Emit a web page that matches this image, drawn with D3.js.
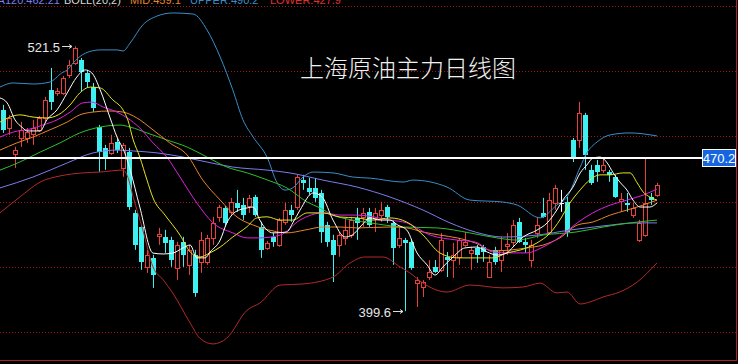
<html>
<head>
<title>上海原油主力日线图</title>
<script src="https://d3js.org/d3.v7.min.js" charset="utf-8"></script>
<style>
body { margin: 0; background: #000; overflow: hidden; }
svg { display: block; }
</style>
</head>
<body>
<script>
var width = 738;
var height = 364;

// daily candles
var opens = [
  492.2, 483.9, 471.9, 479.3, 479.3, 481.1, 483.0, 488.5, 501.4, 500.0,
  500.0, 508.3, 513.8, 515.2, 509.2, 502.8, 484.4, 474.7, 472.4, 477.5,
  465.5, 472.9, 444.8, 438.4, 420.0, 424.1, 434.2, 433.8, 432.4, 419.5,
  431.5, 420.9, 425.5, 422.3, 422.3, 433.3, 443.0, 447.1, 445.2, 449.4,
  448.5, 448.0, 452.2, 438.4, 428.7, 433.8, 430.1, 440.7, 446.2, 447.6,
  460.0, 456.3, 456.3, 454.0, 439.3, 432.4, 430.1, 433.3, 434.7, 442.5,
  443.0, 445.3, 442.5, 443.9, 447.6, 440.2, 430.1, 432.4, 431.5, 412.6,
  410.7, 415.3, 419.9, 418.5, 424.5, 423.1, 424.5, 430.1, 426.4, 428.7,
  429.2, 415.3, 427.8, 423.1, 429.6, 431.5, 440.7, 431.5, 423.1, 435.6,
  444.8, 436.0, 449.4, 449.4, 449.9, 478.4, 478.4, 489.9, 464.6, 466.9,
  464.6, 463.6, 461.4, 450.3, 449.4, 443.9, 432.4, 434.7, 452.2, 453.1];
var highs = [
  494.5, 489.9, 475.2, 486.7, 483.9, 487.6, 489.4, 498.2, 511.5, 502.3,
  507.8, 515.2, 521.5, 516.1, 510.6, 504.6, 485.3, 476.1, 480.7, 479.3,
  477.0, 474.7, 446.2, 439.3, 427.8, 425.5, 437.9, 437.0, 433.8, 431.5,
  433.8, 430.1, 427.8, 436.0, 434.7, 443.0, 448.5, 448.0, 451.7, 455.4,
  451.7, 453.1, 453.1, 440.7, 431.9, 435.6, 442.5, 449.4, 448.5, 462.3,
  462.3, 460.9, 460.9, 455.4, 440.7, 434.7, 436.0, 442.5, 443.0, 447.1,
  447.1, 447.1, 447.1, 449.9, 448.5, 441.6, 438.4, 433.3, 432.4, 415.3,
  413.9, 423.1, 423.1, 435.6, 426.8, 431.0, 433.3, 436.0, 429.2, 430.1,
  430.1, 425.5, 429.2, 433.8, 435.6, 441.6, 442.5, 433.3, 432.4, 443.0,
  451.7, 454.0, 457.7, 455.4, 452.2, 479.3, 495.9, 490.8, 466.9, 469.2,
  470.5, 464.6, 462.3, 454.0, 454.0, 449.4, 441.6, 470.1, 454.0, 458.6];
var lows = [
  481.6, 480.7, 465.5, 475.2, 477.0, 476.1, 482.1, 486.7, 492.2, 498.6,
  499.1, 506.9, 512.9, 500.5, 502.3, 491.3, 463.7, 464.6, 471.5, 472.4,
  461.4, 446.2, 427.8, 418.6, 417.2, 410.3, 430.1, 426.4, 420.0, 414.0,
  420.0, 416.3, 406.2, 417.2, 420.9, 430.1, 440.7, 438.4, 443.9, 445.3,
  441.6, 444.8, 443.0, 424.1, 427.8, 429.2, 429.2, 439.3, 440.7, 446.2,
  455.4, 453.1, 449.9, 431.0, 429.2, 413.0, 424.6, 430.1, 433.3, 432.4,
  438.4, 438.4, 436.0, 440.7, 440.2, 420.9, 428.7, 399.6, 418.6, 401.5,
  406.1, 413.9, 417.2, 417.6, 415.3, 414.9, 420.9, 429.2, 418.6, 421.8,
  422.3, 415.3, 420.9, 417.6, 425.5, 429.2, 431.0, 426.4, 420.0, 433.3,
  442.5, 435.6, 446.2, 445.3, 433.8, 468.2, 474.7, 464.6, 457.7, 459.1,
  463.2, 459.1, 451.7, 445.3, 445.3, 442.5, 431.4, 433.8, 448.5, 452.2];
var closes = [
  483.0, 488.5, 473.7, 483.0, 482.1, 483.9, 488.5, 496.8, 495.9, 500.9,
  506.9, 512.9, 520.7, 509.7, 505.1, 493.1, 472.9, 470.1, 477.0, 473.8,
  476.1, 447.6, 430.1, 422.3, 425.5, 416.3, 435.1, 431.0, 423.2, 430.1,
  425.5, 427.8, 408.0, 432.4, 433.3, 440.2, 447.6, 440.2, 449.9, 447.1,
  443.9, 451.7, 443.9, 427.8, 431.0, 431.5, 441.6, 446.2, 443.9, 461.4,
  458.6, 454.5, 451.7, 436.0, 431.5, 425.5, 434.7, 437.0, 441.6, 440.2,
  444.8, 439.3, 444.8, 446.2, 443.0, 428.7, 433.3, 431.0, 419.5, 414.0,
  413.0, 417.6, 417.6, 432.4, 423.1, 425.5, 432.4, 431.5, 427.8, 425.5,
  426.9, 422.3, 422.3, 427.8, 430.5, 439.3, 431.5, 430.1, 430.1, 439.3,
  443.0, 450.8, 456.3, 449.4, 436.0, 470.5, 490.8, 471.5, 458.6, 463.6,
  466.9, 462.3, 452.2, 451.2, 448.5, 447.1, 440.2, 449.4, 450.8, 457.7];

// indicator lines as [day index, price]
var bollUpper = [[-0.5,502.7],[1.7,504.6],[5,504.1],[7.8,505.0],[9.8,509.2],[10.7,510.6],[11.7,513.8],[13.2,517.5],[14.2,518.8],[16.2,519.8],[19,519.8],[20,519.3],[21.2,523.0],[23.3,531.3],[25.7,535.4],[28.3,536.8],[31.7,536.3],[34,529.0],[36.2,516.5],[38.3,501.4],[40,487.6],[41.7,479.7],[44,470.5],[45.7,458.6],[47,455.3],[48.3,456.3],[50,461.3],[51.7,463.6],[55,463.2],[58.3,461.3],[61.2,460.8],[66.7,459.0],[68.3,459.9],[74,456.7],[77.8,450.7],[83.3,449.8],[85.7,448.4],[89.5,442.5],[92.3,448.4],[94,452.1],[96.2,465.9],[97.3,472.4],[99,477.4],[101.2,480.7],[104.5,481.6],[109,480.2]];
var bollLower = [[-0.5,444.8],[2.8,452.1],[6.2,459.0],[9.5,461.8],[13.3,463.2],[16.2,463.6],[20,464.5],[20.8,461.3],[21.7,452.1],[23.3,437.0],[25,419.9],[26.7,414.0],[28.3,407.9],[31.2,394.1],[32.8,387.2],[35,384.5],[37.3,387.2],[40.7,400.1],[42.8,403.3],[46.2,411.6],[50,412.1],[55,415.3],[57.8,421.7],[60.3,424.5],[63.3,424.5],[66.2,419.9],[67.8,417.2],[70,412.5],[74,408.4],[77.8,411.6],[83.3,410.3],[86.7,410.7],[89.5,412.5],[92.3,408.0],[94,408.4],[96.2,402.9],[97.8,403.8],[100,406.1],[102.8,408.4],[105.7,413.0],[109,421.8]];
var ma5 = [[-0.5,497.7],[0.7,495.4],[2,487.6],[3.3,483.9],[4,482.5],[6.2,482.5],[7.3,487.6],[9,492.2],[10.7,500.0],[12.3,507.3],[13.7,510.6],[14.8,509.2],[16.2,501.4],[17.8,488.9],[19,479.7],[20.3,472.4],[21.2,464.5],[22.8,447.5],[25,426.3],[26.7,425.9],[28.3,426.3],[30,428.7],[31.2,430.0],[32.3,424.1],[33.7,424.1],[34.5,426.8],[36.2,432.3],[37.3,440.2],[38.7,445.2],[40.7,447.1],[41.7,447.5],[42.8,441.5],[44,436.9],[45,435.6],[47.3,436.0],[48.3,440.2],[49.5,446.1],[51.7,454.0],[53.2,452.1],[55,441.5],[57,433.7],[58.2,434.6],[59.8,439.2],[61.2,442.5],[62.8,441.5],[64.5,441.5],[65.8,439.2],[67.3,436.9],[69,426.4],[70.7,420.8],[72,416.2],[73.3,419.9],[75,424.5],[77,428.7],[79,429.1],[80.7,426.8],[82.3,425.4],[84,426.4],[85,429.1],[86.7,433.7],[89,436.9],[90.7,440.2],[92.3,446.1],[93.3,450.7],[95,456.7],[96.2,463.2],[97.3,466.8],[98.3,470.0],[99.5,470.5],[100.7,467.8],[101.7,463.2],[102.8,459.0],[104,455.3],[105,450.7],[106.2,447.5],[107.8,447.5],[109,449.4]];
var ma10 = [[-0.5,486.6],[2.8,489.9],[5,488.9],[7.3,488.5],[9.2,489.9],[11.2,494.5],[12.8,500.0],[14.5,502.7],[16.2,502.3],[18.3,496.8],[20,492.2],[20.8,487.6],[21.7,478.4],[22.8,470.5],[24,459.9],[25,451.7],[27,443.8],[29.5,434.6],[31.2,426.8],[32.8,424.5],[34.5,426.4],[36.2,429.1],[38.3,433.7],[40.7,438.5],[42.3,442.5],[44,443.0],[46.2,441.5],[48.3,441.5],[50.7,444.8],[53.3,444.8],[56.2,442.9],[59,442.5],[61.7,441.5],[64.5,442.5],[67.3,440.6],[70,434.6],[72.8,426.4],[75.7,424.1],[78.7,424.1],[81.7,424.1],[84,426.4],[86.2,427.7],[89,431.0],[91.2,435.6],[92.8,441.5],[94.5,449.4],[96.2,455.4],[97.8,460.0],[99.5,462.3],[101.2,462.3],[103.3,463.2],[104.5,463.2],[105.7,458.6],[106.7,454.4],[107.8,452.1],[109,450.7]];
var ma20 = [[-0.5,479.7],[1.7,482.0],[4.5,483.4],[6.7,485.3],[9,487.6],[11.2,491.2],[13.3,495.4],[14.8,495.8],[16.7,493.5],[19,491.2],[20.7,488.5],[22.8,483.9],[25,477.0],[27.3,470.5],[29.5,461.3],[32.3,449.4],[35,440.2],[38.3,435.6],[40.7,433.3],[42.8,433.3],[46.2,434.6],[49.5,441.5],[53.3,444.8],[56.2,443.8],[59,443.8],[64.5,441.5],[67.3,440.2],[71.2,434.6],[75.7,432.3],[78.7,431.4],[81.7,426.8],[84.5,426.4],[87.3,426.4],[90,429.1],[92.8,433.7],[95.7,440.2],[98.3,444.8],[101.2,448.4],[104,450.7],[106.7,453.0],[109,455.8]];
var ma30 = [[-0.5,473.7],[2.3,477.0],[5,479.7],[7.8,483.0],[10.7,486.6],[12.8,489.9],[15,491.2],[17.8,491.7],[20,491.2],[22.3,488.5],[25,483.0],[27.8,477.0],[30.7,471.4],[33.3,459.9],[36.2,450.7],[39,442.9],[41.7,439.2],[45,436.5],[47.3,435.6],[50.3,436.9],[53.3,438.3],[56.2,438.3],[59,437.9],[64.5,438.3],[67.3,437.9],[70,436.0],[72.8,434.6],[75.7,433.3],[78.7,431.0],[81.7,427.3],[84.5,427.7],[87.3,428.7],[90,430.0],[92.8,433.3],[95.7,439.2],[98.3,440.6],[101.2,443.8],[104,446.1],[106.7,448.4],[109,450.7]];
var ma60 = [[-0.5,464.5],[2.8,468.2],[6.2,472.8],[9.5,477.0],[12.8,481.6],[16.2,484.3],[19.5,485.2],[21.2,484.3],[24,481.6],[27.3,478.4],[30.7,475.1],[34,470.5],[37.3,465.9],[40.7,463.2],[44,460.0],[47.3,456.3],[50.7,449.8],[52.8,447.1],[55,443.8],[58.3,441.5],[61.2,440.2],[66.7,438.3],[72.3,437.9],[77.8,435.6],[82.3,433.3],[85.7,432.3],[90,434.6],[95.5,436.0],[100,438.3],[104.5,440.2],[109,441.5]];
var ma120 = [[-0.5,456.3],[5,461.3],[10.7,467.8],[15,472.4],[19,473.7],[21.7,473.3],[25.7,472.4],[30,470.5],[34,468.2],[38.3,465.9],[44,464.5],[47.8,463.2],[53.3,459.9],[59,456.7],[64.5,452.1],[70,446.1],[74.5,440.2],[78.7,436.0],[83.3,433.7],[89,434.6],[94.5,436.9],[100,438.8],[105.7,440.2],[109,440.2]];

var gridLevels = [540, 510, 480, 450, 420, 390];
var lastPrice = 470.2;
var highDay = 12, highPrice = 521.5;
var lowDay = 67, lowPrice = 399.6;
var legendTexts = ["MA120:462.21", "BOLL(20,2)", "MID:459.1", "UPPER:490.2", "LOWER:427.9"];

var svg = d3.select("body")
   .append("svg")
   .attr("width", width)
   .attr("height", height)
   .style("background", "#000");

var x = d3.scaleLinear().domain([0, 109]).range([3, 657]);
var y = d3.scaleLinear().domain([390, 540]).range([332, 6]);

// dotted grid
svg.selectAll("line.grid")
   .data(gridLevels)
   .enter()
   .append("line")
   .attr("class", "grid")
   .attr("x1", 0).attr("x2", 736)
   .attr("y1", function(d){ return Math.round(y(d)) + 0.5; })
   .attr("y2", function(d){ return Math.round(y(d)) + 0.5; })
   .attr("stroke", "#a01818")
   .attr("stroke-dasharray", "1,2");

// frame right and bottom
svg.append("line").attr("x1", 736.5).attr("x2", 736.5).attr("y1", 0).attr("y2", 361)
   .attr("stroke", "#b02020");
svg.append("line").attr("x1", 0).attr("x2", 737).attr("y1", 360.5).attr("y2", 360.5)
   .attr("stroke", "#b02020");

// candles
var days = d3.range(opens.length);
var up = "#e8413c", down = "#3ff0f0";
var candles = svg.append("g");
days.forEach(function(i){
   var cx = Math.round(x(i)) + 0.5;
   var o = opens[i], c = closes[i];
   var top = Math.round(y(Math.max(o, c))), bot = Math.round(y(Math.min(o, c)));
   var col = c > o ? up : (c < o ? down : "#ffffff");
   if (c >= o) {
      candles.append("line").attr("x1", cx).attr("x2", cx)
         .attr("y1", y(highs[i])).attr("y2", top).attr("stroke", col);
      candles.append("line").attr("x1", cx).attr("x2", cx)
         .attr("y1", bot).attr("y2", y(lows[i])).attr("stroke", col);
      if (c > o) {
         candles.append("rect").attr("x", cx - 2).attr("y", top + 0.5)
            .attr("width", 4).attr("height", Math.max(bot - top, 1))
            .attr("fill", "#000").attr("stroke", col);
      } else {
         candles.append("line").attr("x1", cx - 2.5).attr("x2", cx + 2.5)
            .attr("y1", top + 0.5).attr("y2", top + 0.5).attr("stroke", col);
      }
   } else {
      candles.append("line").attr("x1", cx).attr("x2", cx)
         .attr("y1", y(highs[i])).attr("y2", y(lows[i])).attr("stroke", col);
      candles.append("rect").attr("x", cx - 2.5).attr("y", top)
         .attr("width", 5).attr("height", Math.max(bot - top, 1))
         .attr("fill", col);
   }
});

// indicator lines
var line = d3.line()
   .x(function(d){ return x(d[0]); })
   .y(function(d){ return y(d[1]); })
   .curve(d3.curveMonotoneX);

var series = [
   {data: bollUpper, color: "#3a8ec8"},
   {data: bollLower, color: "#b22a2a"},
   {data: ma120, color: "#7c7cf0"},
   {data: ma60, color: "#2cc02c"},
   {data: ma30, color: "#e8862a"},
   {data: ma20, color: "#e020e0"},
   {data: ma10, color: "#e6e61e"},
   {data: ma5, color: "#ffffff"}
];
svg.selectAll("path.ind")
   .data(series)
   .enter()
   .append("path")
   .attr("class", "ind")
   .attr("d", function(d){ return line(d.data); })
   .attr("fill", "none")
   .attr("stroke", function(d){ return d.color; })
   .attr("stroke-width", 1);

// last price line and label
var ly = Math.round(y(lastPrice));
svg.append("line").attr("x1", 0).attr("x2", 702).attr("y1", ly).attr("y2", ly)
   .attr("stroke", "#ffffff").attr("stroke-width", 2);
svg.append("rect").attr("x", 702.5).attr("y", ly - 8.5).attr("width", 33).attr("height", 17)
   .attr("fill", "#1466e0").attr("stroke", "#ffffff");
svg.append("text").attr("x", 719).attr("y", ly + 5)
   .attr("text-anchor", "middle")
   .attr("fill", "#ffffff")
   .style("font", "13px 'Liberation Sans', Arial, sans-serif")
   .text(lastPrice.toFixed(1));

// high / low markers
function marker(day, price, gap) {
   var tip = Math.round(x(day)) - gap, my = Math.round(y(price)) + 0.5;
   svg.append("line").attr("x1", tip - 10).attr("x2", tip).attr("y1", my).attr("y2", my)
      .attr("stroke", "#dcdcdc");
   svg.append("path").attr("d", "M" + (tip - 3) + "," + (my - 2) + "L" + tip + "," + my + "L" + (tip - 3) + "," + (my + 2))
      .attr("fill", "none").attr("stroke", "#dcdcdc");
   svg.append("text").attr("x", tip - 12).attr("y", my + 5)
      .attr("text-anchor", "end")
      .attr("fill", "#e6e6e6")
      .style("font", "13px 'Liberation Sans', Arial, sans-serif")
      .text(price.toFixed(1));
}
marker(highDay, highPrice, 3);
marker(lowDay, lowPrice, 2);

// legend, cut off at the top edge like the original
var legendColors = ["#7c7cf0", "#d8d8d8", "#e8862a", "#3a8ec8", "#e03030"];
var legendX = [60, 64, 130, 190, 270];
svg.selectAll("text.legend")
   .data(legendTexts)
   .enter()
   .append("text")
   .attr("class", "legend")
   .attr("x", function(d, i){ return legendX[i]; })
   .attr("y", 4)
   .attr("text-anchor", function(d, i){ return i == 0 ? "end" : "start"; })
   .attr("fill", function(d, i){ return legendColors[i]; })
   .style("font", "11px 'Liberation Sans', Arial, sans-serif")
   .text(function(d){ return d; });

// title
svg.append("text")
   .attr("x", 300).attr("y", 77)
   .attr("fill", "#f0f0f0")
   .style("font-family", "'Noto Sans CJK SC', sans-serif")
   .style("font-size", "24px")
   .style("font-weight", 300)
   .text("上海原油主力日线图");
</script>
</body>
</html>
